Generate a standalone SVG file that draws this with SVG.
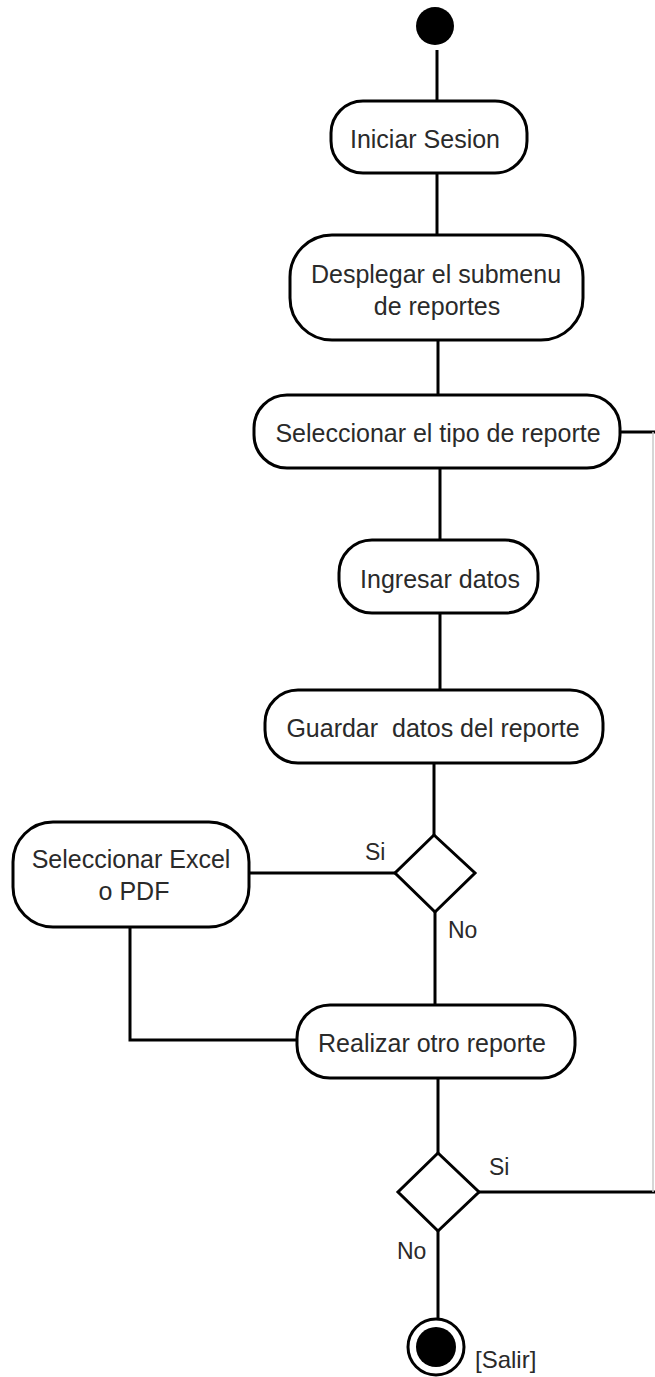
<svg xmlns="http://www.w3.org/2000/svg" width="655" height="1377" viewBox="0 0 655 1377">
<style>
.n{fill:#fff;stroke:#000;stroke-width:3}
.t{font-family:"Liberation Sans",Arial,sans-serif;font-size:25px;fill:#2a2a2a;text-anchor:middle;white-space:pre}
.l{font-family:"Liberation Sans",Arial,sans-serif;font-size:23px;fill:#2a2a2a}
.c{fill:none;stroke:#000;stroke-width:3}
.g{fill:none;stroke:#c8c8c8;stroke-width:1.5}
</style>
<rect width="655" height="1377" fill="#fff"/>
<g id="connectors">
<line class="c" x1="437" y1="50" x2="437" y2="101"/>
<line class="c" x1="437" y1="173" x2="437" y2="235"/>
<line class="c" x1="438" y1="340" x2="438" y2="395"/>
<line class="c" x1="440" y1="468" x2="440" y2="540"/>
<line class="c" x1="440" y1="613" x2="440" y2="690"/>
<line class="c" x1="434" y1="763" x2="434" y2="835"/>
<line class="c" x1="395" y1="873" x2="249" y2="873"/>
<line class="c" x1="435" y1="912" x2="435" y2="1005"/>
<polyline class="c" points="130,927 130,1040 297,1040"/>
<line class="c" x1="438" y1="1078" x2="438" y2="1153"/>
<line class="c" x1="479" y1="1192" x2="655" y2="1192"/>
<line class="c" x1="438" y1="1231" x2="438" y2="1318"/>
<line class="c" x1="620" y1="432" x2="655" y2="432"/>
<line class="g" x1="653" y1="432" x2="653" y2="1192"/>
<text class="l" x="365" y="860">Si</text>
<text class="l" x="448" y="938">No</text>
<text class="l" x="489" y="1175">Si</text>
<text class="l" x="397" y="1259">No</text>
</g>
<g id="start"><circle cx="435" cy="26" r="19" fill="#000"/></g>
<g id="iniciar"><rect class="n" x="331" y="101" width="196" height="72" rx="32"/><text class="t" x="425" y="148">Iniciar Sesion</text></g>
<g id="desplegar"><rect class="n" x="290" y="235" width="293" height="105" rx="42"/><text class="t" x="436" y="283">Desplegar el submenu</text><text class="t" x="437" y="315">de reportes</text></g>
<g id="seleccionar"><rect class="n" x="254" y="395" width="366" height="73" rx="33"/><text class="t" x="438" y="442">Seleccionar el tipo de reporte</text></g>
<g id="ingresar"><rect class="n" x="339" y="540" width="199" height="73" rx="33"/><text class="t" x="440" y="588">Ingresar datos</text></g>
<g id="guardar"><rect class="n" x="265" y="690" width="338" height="73" rx="33"/><text class="t" x="433" y="737">Guardar  datos del reporte</text></g>
<g id="decision1"><polygon class="n" points="434,835 475,873 435,912 395,873"/></g>
<g id="excel"><rect class="n" x="13" y="822" width="236" height="105" rx="40"/><text class="t" x="131" y="868">Seleccionar Excel</text><text class="t" x="134" y="900">o PDF</text></g>
<g id="realizar"><rect class="n" x="297" y="1005" width="278" height="73" rx="33"/><text class="t" x="432" y="1052">Realizar otro reporte</text></g>
<g id="decision2"><polygon class="n" points="438,1153 479,1192 438,1231 398,1192"/></g>
<g id="end"><circle cx="436" cy="1347" r="28" fill="#fff" stroke="#000" stroke-width="3"/><circle cx="436" cy="1347" r="20" fill="#000"/><text class="t" x="475" y="1368" style="text-anchor:start;font-size:24px">[Salir]</text></g>
</svg>
